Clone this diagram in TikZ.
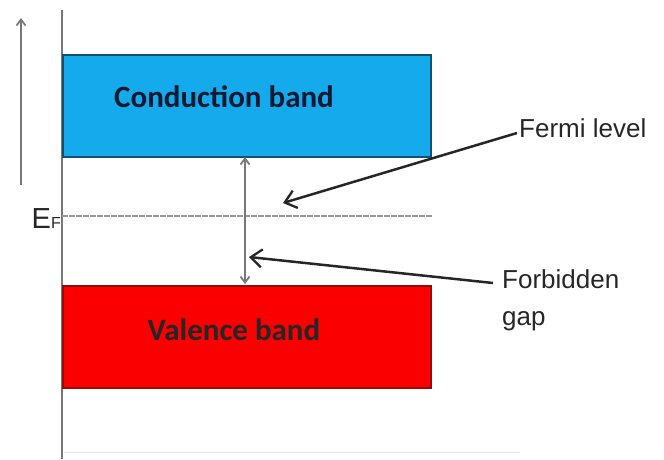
\documentclass[tikz,border=0pt]{standalone}
\usepackage{fontspec}
\setmainfont{Liberation Sans}
\newfontfamily\bandfont{Carlito}
\usetikzlibrary{arrows.meta}
\definecolor{cband}{RGB}{20,170,235}
\definecolor{cbord}{RGB}{20,80,110}
\definecolor{vband}{RGB}{250,0,0}
\definecolor{vbord}{RGB}{150,10,10}
\definecolor{axgray}{RGB}{120,120,120}
\definecolor{ctext}{RGB}{15,25,50}
\tikzset{
  band/.style={draw, line width=2.2pt, inner sep=0pt, anchor=north west},
  bandtext/.style={font=\bandfont\bfseries\fontsize{31}{33}\selectfont, inner sep=0pt, anchor=base},
  label/.style={font=\fontsize{26}{37}\selectfont, text=black!85, inner sep=0pt},
  pointer/.style={line width=2.5pt, black!85, -{Straight Barb[length=11pt,width=18pt,line width=2.3pt]}},
  gray arrow/.style={line width=2.2pt, axgray, -{Straight Barb[length=6pt,width=9pt,line width=1.8pt]}},
}
\begin{document}
\begin{tikzpicture}[x=1pt,y=-1pt]
\useasboundingbox (0,0) rectangle (664,459);
% axis
\coordinate (axtop) at (62,10);
\coordinate (axbot) at (62,459);
\draw[line width=2.4pt, axgray] (axtop) -- (axbot);
% energy arrow
\coordinate (ea) at (21,185);
\coordinate (eb) at (21,18);
\draw[gray arrow] (ea) -- (eb);
% bands
\node[band, draw=cbord, fill=cband, minimum width=368pt, minimum height=102pt] (cb) at (62,54) {};
\node[bandtext, text=ctext] (cbt) at (224,107) {Conduction band};
\node[band, draw=vbord, fill=vband, minimum width=368pt, minimum height=102pt] (vb) at (62,285) {};
\node[bandtext, text=black!85] (vbt) at (234,340) {Valence band};
% Fermi level
\coordinate (efl) at (62,216);
\coordinate (efr) at (433,216);
\draw[line width=1.2pt, black!40, dash pattern=on 6pt off 1pt] (efl) -- (efr);
\node[font=\fontsize{29}{30}\selectfont, text=black!85, inner sep=0pt, anchor=base east] (ef) at (61,228) {E\fontsize{16}{17}\selectfont F};
% gap arrow
\coordinate (gt) at (245,157);
\coordinate (gb) at (245,284);
\draw[gray arrow, {Straight Barb[length=6pt,width=9pt,line width=1.8pt]}-{Straight Barb[length=6pt,width=9pt,line width=1.8pt]}] (gt) -- (gb);
% labels
\node[label, anchor=base west] (fl) at (519,137) {Fermi level};
\node[label, anchor=base west, align=left] (fg) at (502,325) {Forbidden\\gap};
\coordinate (flp) at (283,203);
\coordinate (fgp) at (249,257);
\coordinate (fls) at (517,133);
\coordinate (fgs) at (493,283);
\draw[pointer] (fls) -- (flp);
\draw[pointer] (fgs) -- (fgp);
% faint bottom line
\coordinate (bl) at (64,452);
\coordinate (br) at (520,452);
\draw[black!10, line width=0.8pt] (bl) -- (br);
\end{tikzpicture}
\end{document}
